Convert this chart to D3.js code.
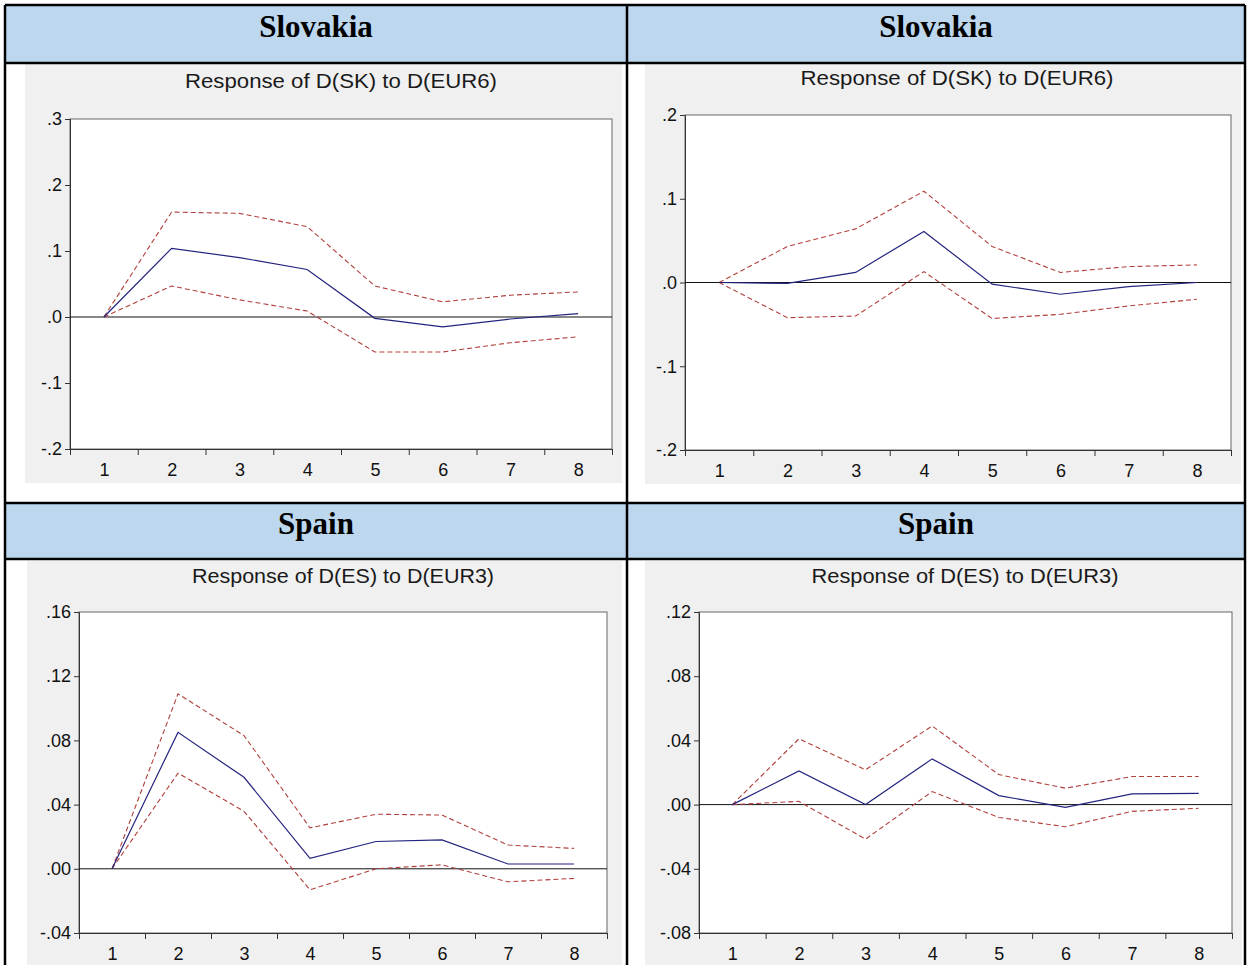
<!DOCTYPE html>
<meta charset="utf-8">
<style>
    body { margin: 0; background: #fff; }
    .resp { fill: none; stroke: #23237e; stroke-width: 1.2px; }
    .band { fill: none; stroke: #b0403c; stroke-width: 1.1px; stroke-dasharray: 5, 3; }
</style>
<svg width="1247" height="965"></svg>
<script src="https://d3js.org/d3.v7.min.js"></script>
<script>
    // periods on the x axis
    var periods = [1, 2, 3, 4, 5, 6, 7, 8];

    // Slovakia, left chart
    var skLeftResp  = [0, 0.104, 0.090, 0.072, -0.002, -0.015, -0.003, 0.005];
    var skLeftUpper = [0, 0.159, 0.157, 0.137, 0.047, 0.023, 0.033, 0.038];
    var skLeftLower = [0, 0.047, 0.026, 0.009, -0.053, -0.053, -0.039, -0.030];
    var skLeftTicks = [-0.2, -0.1, 0, 0.1, 0.2, 0.3];

    // Slovakia, right chart
    var skRightResp  = [0, -0.001, 0.012, 0.061, -0.002, -0.014, -0.005, 0];
    var skRightUpper = [0, 0.043, 0.064, 0.109, 0.043, 0.012, 0.019, 0.021];
    var skRightLower = [0, -0.042, -0.040, 0.013, -0.043, -0.038, -0.028, -0.020];
    var skRightTicks = [-0.2, -0.1, 0, 0.1, 0.2];

    // Spain, left chart
    var esLeftResp  = [0, 0.085, 0.057, 0.0065, 0.017, 0.018, 0.003, 0.003];
    var esLeftUpper = [0, 0.109, 0.083, 0.0255, 0.034, 0.0335, 0.0148, 0.0127];
    var esLeftLower = [0, 0.0596, 0.0358, -0.0131, 0.0, 0.0025, -0.0081, -0.006];
    var esLeftTicks = [-0.04, 0, 0.04, 0.08, 0.12, 0.16];

    // Spain, right chart
    var esRightResp  = [0, 0.021, 0, 0.0285, 0.0056, -0.0017, 0.0067, 0.007];
    var esRightUpper = [0, 0.041, 0.0217, 0.049, 0.0187, 0.0102, 0.0175, 0.0175];
    var esRightLower = [0, 0.002, -0.0215, 0.0081, -0.008, -0.0138, -0.0042, -0.0023];
    var esRightTicks = [-0.08, -0.04, 0, 0.04, 0.08, 0.12];

    var countries = ["Slovakia", "Spain"];
    var titles = ["Response of D(SK) to D(EUR6)", "Response of D(ES) to D(EUR3)"];

    var svg = d3.select("svg");
    var sans = "Arial, 'Liberation Sans', sans-serif";

    // ---- table layout ----
    var tbl = { left: 5, right: 1245, mid: 627, top: 5 };
    var rows = [
        { headTop: 5, headBottom: 63, textY: 37 },
        { headTop: 503, headBottom: 559, textY: 534 }
    ];

    rows.forEach(function (r, i) {
        svg.append("rect")
            .attr("x", tbl.left).attr("y", r.headTop)
            .attr("width", tbl.right - tbl.left).attr("height", r.headBottom - r.headTop)
            .attr("fill", "#bdd7ee");
        [(tbl.left + tbl.mid) / 2, (tbl.mid + tbl.right) / 2].forEach(function (cx) {
            svg.append("text")
                .attr("x", cx).attr("y", r.textY)
                .attr("text-anchor", "middle")
                .attr("font-family", "'Liberation Serif', 'Times New Roman', serif")
                .attr("font-weight", "bold")
                .attr("font-size", 31)
                .text(countries[i]);
        });
    });

    // ---- the four charts ----
    var panels = [
        { bg: [25, 64, 622, 483], frame: [70, 119, 612, 449], titleX: 341, titleY: 88, titleW: 312, fmt: ".1f",
          ticks: skLeftTicks, resp: skLeftResp, upper: skLeftUpper, lower: skLeftLower, title: titles[0] },
        { bg: [645, 64, 1241, 484], frame: [685, 115, 1231, 450], titleX: 957, titleY: 85, titleW: 313, fmt: ".1f",
          ticks: skRightTicks, resp: skRightResp, upper: skRightUpper, lower: skRightLower, title: titles[0] },
        { bg: [27, 561, 622, 965], frame: [79, 612, 607, 933], titleX: 343, titleY: 583, titleW: 302, fmt: ".2f",
          ticks: esLeftTicks, resp: esLeftResp, upper: esLeftUpper, lower: esLeftLower, title: titles[1] },
        { bg: [645, 561, 1242, 965], frame: [699, 612, 1232, 933], titleX: 965, titleY: 583, titleW: 307, fmt: ".2f",
          ticks: esRightTicks, resp: esRightResp, upper: esRightUpper, lower: esRightLower, title: titles[1] }
    ];

    panels.forEach(function (p) {
        var g = svg.append("g");
        var f = p.frame;

        g.append("rect")
            .attr("x", p.bg[0]).attr("y", p.bg[1])
            .attr("width", p.bg[2] - p.bg[0]).attr("height", p.bg[3] - p.bg[1])
            .attr("fill", "#f0f0f0");

        g.append("rect")
            .attr("x", f[0]).attr("y", f[1])
            .attr("width", f[2] - f[0]).attr("height", f[3] - f[1])
            .attr("fill", "#fff")
            .attr("stroke", "#666");

        g.append("text")
            .attr("x", p.titleX).attr("y", p.titleY)
            .attr("text-anchor", "middle")
            .attr("font-family", sans)
            .attr("font-size", 20)
            .attr("fill", "#1a1a1a")
            .attr("textLength", p.titleW)
            .attr("lengthAdjust", "spacingAndGlyphs")
            .text(p.title);

        var x = d3.scaleLinear().domain([0.5, 8.5]).range([f[0], f[2]]);
        var y = d3.scaleLinear().domain(d3.extent(p.ticks)).range([f[3], f[1]]);
        var fmt = d3.format(p.fmt);

        // y axis
        var ya = g.append("g")
            .attr("transform", "translate(" + f[0] + ",0)")
            .call(d3.axisLeft(y).tickValues(p.ticks).tickSize(5).tickPadding(3)
                .tickFormat(function (d) { return fmt(d).replace("\u2212", "-").replace("0.", "."); }));
        ya.select(".domain").attr("stroke", "#333");
        ya.selectAll(".tick line").attr("stroke", "#333");
        ya.selectAll(".tick text").attr("font-size", 18).attr("font-family", sans).attr("fill", "#111");

        // x axis: tick marks between periods, labels at centres
        var xa = g.append("g")
            .attr("transform", "translate(0," + f[3] + ")")
            .call(d3.axisBottom(x).tickValues(d3.range(0.5, 9, 1)).tickSize(6).tickFormat(""));
        xa.select(".domain").attr("stroke", "#333");
        xa.selectAll(".tick line").attr("stroke", "#333");
        var xl = g.append("g")
            .attr("transform", "translate(0," + f[3] + ")")
            .call(d3.axisBottom(x).tickValues(periods).tickSize(0).tickPadding(14).tickFormat(d3.format("d")));
        xl.select(".domain").remove();
        xl.selectAll(".tick text").attr("font-size", 18).attr("font-family", sans).attr("fill", "#111");

        // zero line
        g.append("line")
            .attr("x1", f[0]).attr("x2", f[2])
            .attr("y1", y(0)).attr("y2", y(0))
            .attr("stroke", "#111");

        var line = d3.line()
            .x(function (d, i) { return x(periods[i]); })
            .y(function (d) { return y(d); });

        g.append("path").attr("class", "band").attr("d", line(p.upper));
        g.append("path").attr("class", "band").attr("d", line(p.lower));
        g.append("path").attr("class", "resp").attr("d", line(p.resp));
    });

    // table grid lines on top
    var grid = svg.append("g").attr("stroke", "#000").attr("stroke-width", 2.5);
    grid.append("line").attr("x1", tbl.left).attr("x2", tbl.left).attr("y1", tbl.top).attr("y2", 965);
    grid.append("line").attr("x1", tbl.right).attr("x2", tbl.right).attr("y1", tbl.top).attr("y2", 965);
    grid.append("line").attr("x1", tbl.mid).attr("x2", tbl.mid).attr("y1", tbl.top).attr("y2", 965);
    [rows[0].headTop, rows[0].headBottom, rows[1].headTop, rows[1].headBottom].forEach(function (yy) {
        grid.append("line").attr("x1", tbl.left).attr("x2", tbl.right).attr("y1", yy).attr("y2", yy);
    });
</script>
